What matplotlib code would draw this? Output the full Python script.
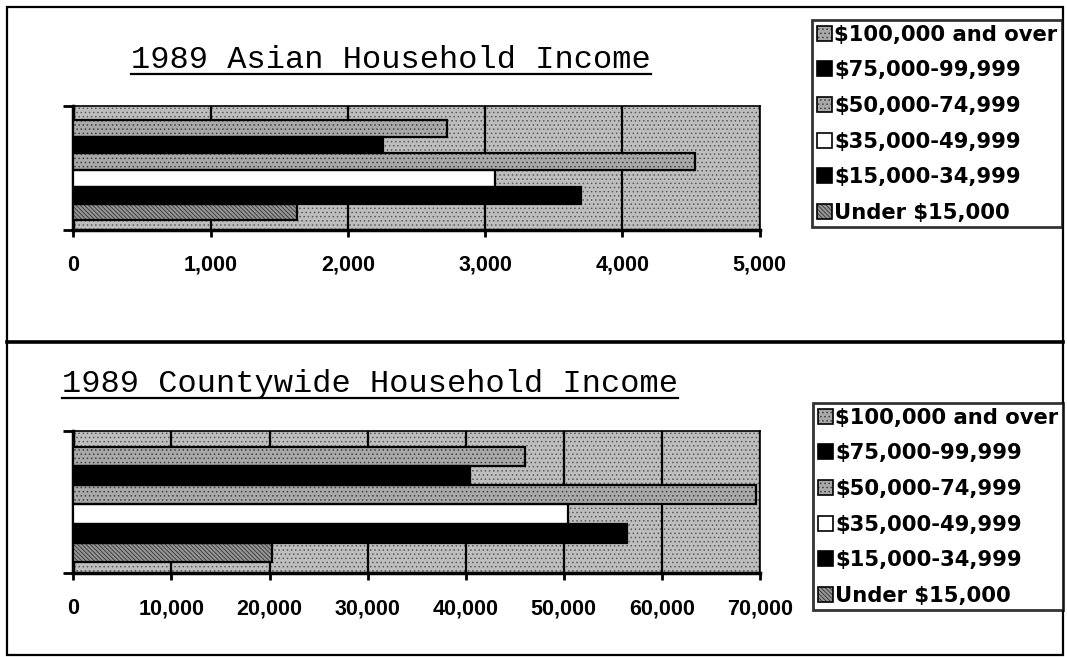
"""
1989 household income by bracket: Asian households vs. countywide
"""

import matplotlib
matplotlib.use('Agg')
import matplotlib.pyplot as plt
from matplotlib.patches import Patch, Rectangle
from matplotlib.lines import Line2D
from matplotlib.ticker import FuncFormatter

W, H, DPI = 1067, 657, 100

brackets = ["$100,000 and over", "$75,000-99,999", "$50,000-74,999",
            "$35,000-49,999", "$15,000-34,999", "Under $15,000"]
asian_households = [2720, 2260, 4530, 3070, 3700, 1630]
county_households = [46000, 40400, 69600, 50400, 56400, 20300]
asian_ticks = [0, 1000, 2000, 3000, 4000, 5000]
county_ticks = [0, 10000, 20000, 30000, 40000, 50000, 60000, 70000]

# fill colour, hatch and hatch colour for each bracket, same order as above
bar_styles = [
    ('#a9a9a9', '....', '#404040'),
    ('black', None, 'black'),
    ('#a9a9a9', '....', '#404040'),
    ('white', None, 'white'),
    ('black', None, 'black'),
    ('#969696', '\\' * 8, '#333333'),
]

plt.rcParams['hatch.linewidth'] = 0.6

TICK_FONT = dict(family=['Liberation Sans', 'DejaVu Sans'], weight='bold', size=15.5)
LEGEND_FONT = dict(family='DejaVu Sans', weight='bold', size=15.2)
TITLE_FONT = dict(family=['Liberation Mono', 'DejaVu Sans Mono'], size=23)


def px_box(left, top, right, bottom):
    """pixel box -> figure fraction rect"""
    return [left / W, 1 - bottom / H, (right - left) / W, (bottom - top) / H]


def draw_panel(fig, rect, values, ticks):
    ax = fig.add_axes(rect)
    ax.set_facecolor('#bebebe')
    # dotted fill behind the bars
    ax.add_patch(Rectangle((0, 0), 1, 1, transform=ax.transAxes,
                           facecolor='none', edgecolor='#5a5a5a', linewidth=0,
                           hatch='....', zorder=0))
    ypos = list(range(len(values)))
    for y, v, (fc, hatch, hc) in zip(ypos, values, bar_styles):
        # pattern first, then the black outline on top
        ax.barh(y, v, height=1.0, color=fc, edgecolor=hc, linewidth=0,
                hatch=hatch, zorder=3)
        ax.barh(y, v, height=1.0, fill=False, edgecolor='black',
                linewidth=1.6, zorder=4)
    ax.set_xlim(ticks[0], ticks[-1])
    ylo, yhi = 6.07, -1.32
    ax.set_ylim(ylo, yhi)

    ax.set_xticks(ticks)
    ax.xaxis.set_major_formatter(FuncFormatter(lambda x, _: f'{x:,.0f}'))
    for lab in ax.get_xticklabels():
        lab.set(**TICK_FONT)
    ax.tick_params(axis='x', direction='out', length=5, width=2, pad=13)
    ax.set_yticks([ylo, yhi])
    ax.set_yticklabels([])
    ax.tick_params(axis='y', direction='out', length=7, width=2)

    ax.xaxis.grid(True, color='black', linewidth=1.6, zorder=1)
    ax.set_axisbelow(True)
    for side in ['left', 'bottom']:
        ax.spines[side].set_linewidth(2.5)
    for side in ['top', 'right']:
        ax.spines[side].set_linewidth(1.2)
    return ax


def add_legend(fig, left, top):
    handles = [(Patch(facecolor=fc, edgecolor=hc, hatch=h, linewidth=0),
                Patch(fill=False, edgecolor='black', linewidth=1.2))
               for fc, h, hc in bar_styles]
    leg = fig.legend(handles, brackets, loc='upper left',
                     bbox_to_anchor=(left / W, 1 - top / H),
                     bbox_transform=fig.transFigure,
                     prop=LEGEND_FONT, frameon=True, fancybox=False,
                     borderaxespad=0, borderpad=0.22, handlelength=0.72,
                     handleheight=0.72, handletextpad=0.1,
                     labelspacing=0.74)
    leg.get_frame().set_edgecolor('black')
    leg.get_frame().set_linewidth(2)
    return leg


def add_title(fig, text, x, baseline, underline):
    t = fig.text(x / W, 1 - baseline / H, text, va='baseline', ha='left',
                 **TITLE_FONT)
    fig.canvas.draw()
    bb = t.get_window_extent()
    fig.add_artist(Line2D([bb.x0 / W, bb.x1 / W],
                          [1 - underline / H, 1 - underline / H],
                          color='black', linewidth=1.6))


fig = plt.figure(figsize=(W / DPI, H / DPI), dpi=DPI)

draw_panel(fig, px_box(73.3, 106, 759.5, 230), asian_households, asian_ticks)
draw_panel(fig, px_box(73.3, 431, 760, 573), county_households, county_ticks)

add_legend(fig, 812, 20)
add_legend(fig, 813, 403)

add_title(fig, "1989 Asian Household Income", 131, 68, 74)
add_title(fig, "1989 Countywide Household Income", 62, 392, 398)

# outer frame and the rule between the two panels
fig.add_artist(Rectangle((7 / W, 1 - 655 / H), 1056 / W, 648 / H,
                         transform=fig.transFigure, fill=False,
                         edgecolor='black', linewidth=1.6))
fig.add_artist(Line2D([7 / W, 1063 / W], [1 - 342 / H, 1 - 342 / H],
                      color='black', linewidth=2.6))

fig.savefig('out.png', dpi=DPI)
